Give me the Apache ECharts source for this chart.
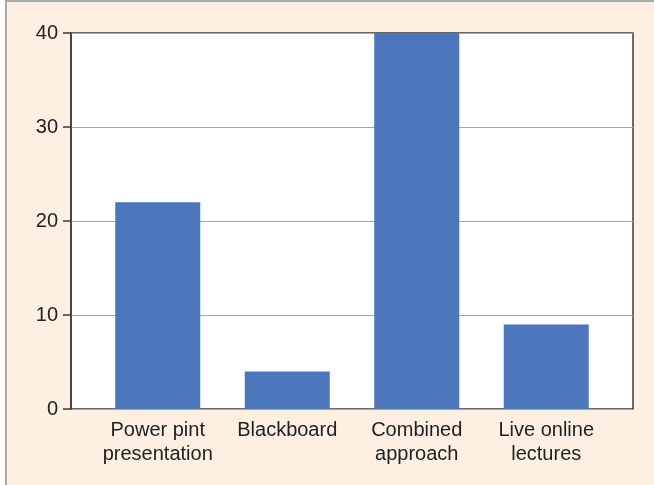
<!DOCTYPE html>
<html>
<head>
<meta charset="utf-8">
<script src="https://cdn.jsdelivr.net/npm/echarts@6/dist/echarts.min.js"></script>
<style>
  html, body { margin: 0; padding: 0; background: #ffffff; }
  #frame {
    position: absolute; left: 5px; top: 0; width: 649px; height: 485px;
    background: #fdf0e2; border-left: 2px solid #a9a9a9; border-top: 2px solid #a9a9a9;
    box-sizing: border-box;
  }
  #chart { position: absolute; left: 0; top: 0; width: 654px; height: 485px; }
</style>
</head>
<body>
<div id="frame"></div>
<div id="chart"></div>
<script>
const categories = ['Power pint\npresentation', 'Blackboard', 'Combined\napproach', 'Live online\nlectures'];
const counts = [22, 4, 40, 9];
const yTicks = { min: 0, max: 40, interval: 10 };

const chart = echarts.init(document.getElementById('chart'), null, { renderer: 'canvas' });
const font = 'Liberation Sans, Arial, sans-serif';
const plot = { top: 33, bottom: 76 };

chart.setOption({
  backgroundColor: 'transparent',
  animation: false,
  grid: [
    // frame with value scale
    { left: 71, right: 21, top: plot.top, bottom: plot.bottom, show: true,
      backgroundColor: '#ffffff', borderColor: '#3a3a3a', borderWidth: 1.5 },
    // bar area, inset from the frame
    { left: 93, right: 43, top: plot.top, bottom: plot.bottom }
  ],
  xAxis: [
    { gridIndex: 0, type: 'category', data: categories, show: false },
    { gridIndex: 1, type: 'category', data: categories,
      axisLine: { show: false }, axisTick: { show: false },
      axisLabel: { color: '#222', fontSize: 20, fontFamily: font, lineHeight: 24, margin: 9, interval: 0 } }
  ],
  yAxis: [
    { gridIndex: 0, type: 'value', min: yTicks.min, max: yTicks.max, interval: yTicks.interval,
      axisLine: { show: true, lineStyle: { color: '#3a3a3a', width: 1.5 } },
      axisTick: { show: true, length: 8, lineStyle: { color: '#3a3a3a', width: 1.5 } },
      axisLabel: { color: '#222', fontSize: 20, fontFamily: font, margin: 13 },
      splitLine: { show: true, lineStyle: { color: '#a6a6a6', width: 1 } } },
    { gridIndex: 1, type: 'value', min: yTicks.min, max: yTicks.max, show: false }
  ],
  series: [{
    type: 'bar', xAxisIndex: 1, yAxisIndex: 1, data: counts,
    barWidth: 85, itemStyle: { color: '#4c77bd' }
  }]
});
</script>
</body>
</html>
